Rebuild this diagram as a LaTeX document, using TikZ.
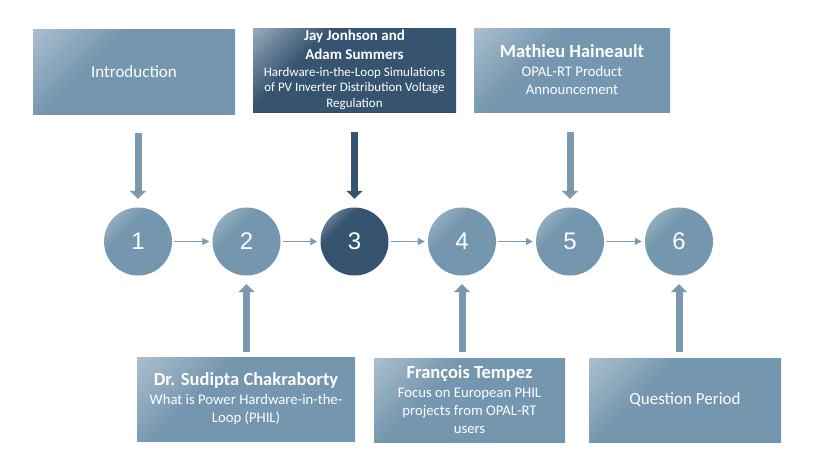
\documentclass[tikz,border=0pt]{standalone}
\usepackage{fontspec}
\setmainfont{Carlito}
\newfontfamily\digitfont{Liberation Sans}
\usetikzlibrary{arrows.meta}

\definecolor{base}{HTML}{7496AE}
\definecolor{baselt}{HTML}{AABECE}
\definecolor{dark}{HTML}{36536F}
\definecolor{darklt}{HTML}{94A9BC}
\definecolor{arrowc}{HTML}{7A98AE}
\definecolor{thinc}{HTML}{7C9BB1}

\pgfdeclarehorizontalshading{glosslight}{100bp}{color(0bp)=(baselt); color(15bp)=(baselt); color(38bp)=(base); color(100bp)=(base)}
\pgfdeclarehorizontalshading{glossdark}{100bp}{color(0bp)=(darklt); color(15bp)=(darklt); color(34bp)=(dark); color(100bp)=(dark)}

\begin{document}
\begin{tikzpicture}[x=1pt,y=-1pt,
  box/.style={rectangle, inner sep=0pt, text=white, align=center, shade, shading=glosslight, shading angle=-45},
  darkbox/.style={box, shading=glossdark},
  num/.style={circle, inner sep=0pt, minimum size=68pt, text=white, font=\digitfont\fontsize{24}{24}\selectfont, shade, shading=glosslight, shading angle=-45},
  darknum/.style={num, shading=glossdark},
  blockarr/.style={draw=arrowc, line width=7pt, -{Triangle[width=16pt,length=8pt]}},
  darkarr/.style={blockarr, draw=dark},
  thinarr/.style={draw=thinc, line width=1.5pt, -{Triangle[width=7pt,length=7pt]}, shorten <=2pt, shorten >=3pt},
  big/.style={font=\fontsize{17}{20}\selectfont},
  mid/.style={font=\fontsize{14.7}{18}\selectfont},
  small/.style={font=\fontsize{13}{15.7}\selectfont}
]
\useasboundingbox[fill=white] (0,0) rectangle (820,467);

% top boxes
\node[box, big, minimum width=202pt, minimum height=85pt] (intro) at (134,71.5) {Introduction};
\node[darkbox, small, minimum width=203pt, minimum height=84pt] (jay) at (354.5,70)
  {{\bfseries\fontsize{15}{19}\selectfont Jay Jonhson and}\\[3.3pt]
   {\bfseries\fontsize{15}{19}\selectfont Adam Summers}\\[0.5pt]
   Hardware-in-the-Loop Simulations\\
   of PV Inverter Distribution Voltage\\
   Regulation};
\node[box, mid, minimum width=196pt, minimum height=84pt] (mat) at (572,70)
  {{\bfseries\fontsize{18.5}{20}\selectfont Mathieu Haineault}\\[1pt]
   OPAL-RT Product\\
   Announcement};

% circles
\node[num] (c1) at (138,241.5) {1};
\node[num] (c2) at (246.5,241.5) {2};
\node[darknum] (c3) at (354.5,241.5) {3};
\node[num] (c4) at (462,241.5) {4};
\node[num] (c5) at (570,241.5) {5};
\node[num] (c6) at (679,241.5) {6};

% bottom boxes
\node[box, mid, minimum width=218pt, minimum height=84pt] (sud) at (246,399)
  {{\bfseries\fontsize{18.5}{20}\selectfont Dr. Sudipta Chakraborty}\\[1pt]
   What is Power Hardware-in-the-\\
   Loop (PHIL)};
\node[box, mid, minimum width=191pt, minimum height=84pt] (fra) at (469.5,400)
  {{\bfseries\fontsize{18.5}{20}\selectfont François Tempez}\\[1pt]
   Focus on European PHIL\\
   projects from OPAL-RT\\
   users};
\node[box, big, minimum width=192pt, minimum height=84pt] (que) at (685,400) {Question Period};

% thin arrows between circles
\draw[thinarr] (c1) -- (c2);
\draw[thinarr] (c2) -- (c3);
\draw[thinarr] (c3) -- (c4);
\draw[thinarr] (c4) -- (c5);
\draw[thinarr] (c5) -- (c6);

% block arrows from top boxes
\draw[blockarr, shorten <=19pt, shorten >=8.5pt] (c1 |- intro.south) -- (c1.north);
\draw[darkarr, shorten <=20pt, shorten >=8.5pt] (c3 |- jay.south) -- (c3.north);
\draw[blockarr, shorten <=20pt, shorten >=8.5pt] (c5 |- mat.south) -- (c5.north);

% block arrows from bottom boxes
\draw[blockarr, shorten <=5pt, shorten >=8.5pt] (c2 |- sud.north) -- (c2.south);
\draw[blockarr, shorten <=6pt, shorten >=8.5pt] (c4 |- fra.north) -- (c4.south);
\draw[blockarr, shorten <=6pt, shorten >=8.5pt] (c6 |- que.north) -- (c6.south);
\end{tikzpicture}
\end{document}
